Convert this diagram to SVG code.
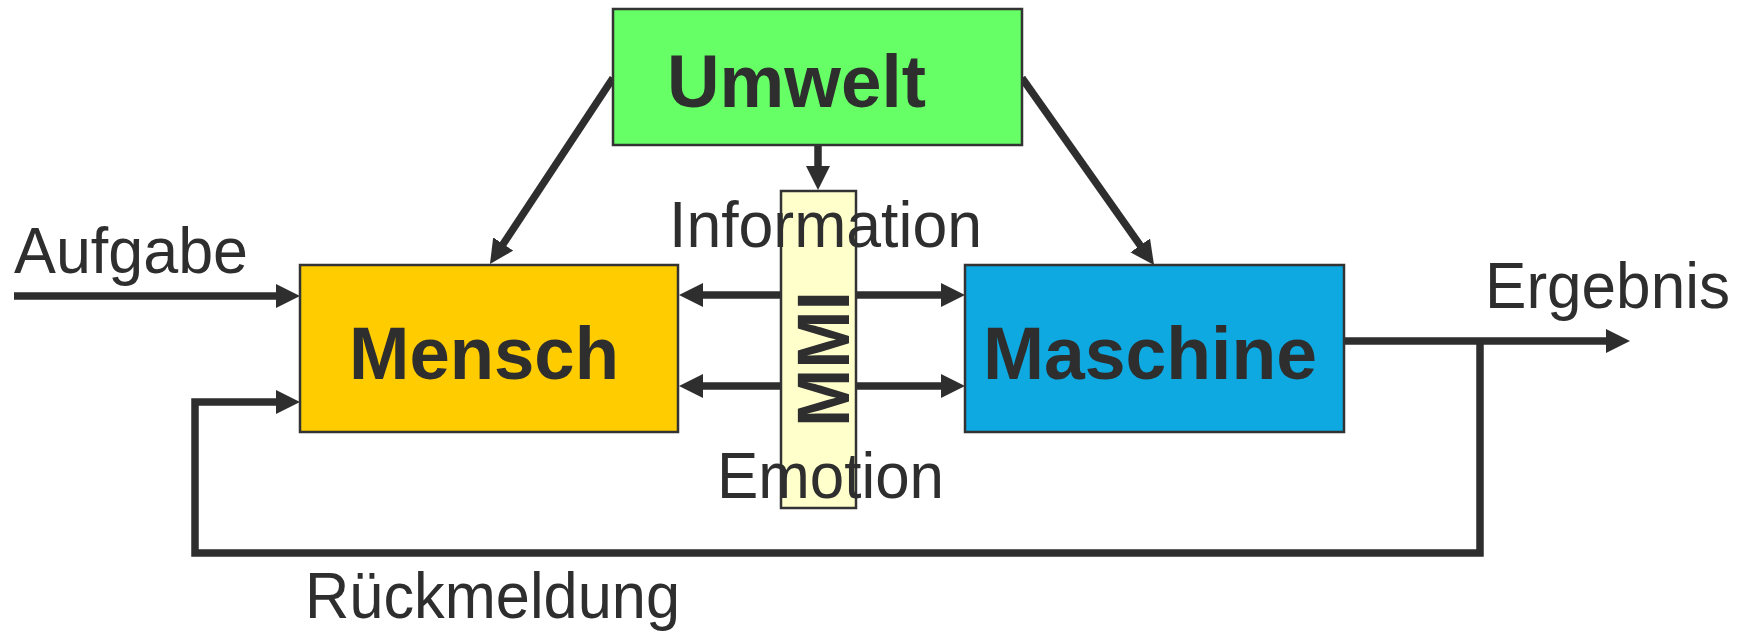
<svg xmlns="http://www.w3.org/2000/svg" width="1750" height="632" viewBox="0 0 1750 632">
<style>
.box{stroke:#333333;stroke-width:2.5}
.conn{fill:none;stroke:#2e2e2e;stroke-width:7.5;stroke-linejoin:miter;stroke-linecap:butt}
.bold{font-family:"Liberation Sans",Arial,sans-serif;font-weight:bold;font-size:75px;fill:#2e2e2e}
.lbl{font-family:"Liberation Sans",Arial,sans-serif;font-size:64px;fill:#2e2e2e}
</style>
<defs>
<marker id="ah" viewBox="0 0 24 24" refX="4" refY="12" markerWidth="24" markerHeight="24" markerUnits="userSpaceOnUse" orient="auto">
<path d="M0,0 L24,12 L0,24 z" fill="#2e2e2e"/>
</marker>
</defs>
<rect width="1750" height="632" fill="#ffffff"/>
<g id="connectors">
<path class="conn" d="M14,296 H280" marker-end="url(#ah)"/>
<path class="conn" d="M1344,341 H1610" marker-end="url(#ah)"/>
<path class="conn" d="M1480,341 V553 H195 V402 H280" marker-end="url(#ah)"/>
<path class="conn" d="M613,78 L501,247.3" marker-end="url(#ah)"/>
<path class="conn" d="M1022,78 L1142.5,248.7" marker-end="url(#ah)"/>
<path class="conn" d="M818,145 V170" marker-end="url(#ah)"/>
<path class="conn" d="M790,295 H699" marker-end="url(#ah)"/>
<path class="conn" d="M846,295 H945" marker-end="url(#ah)"/>
<path class="conn" d="M790,386 H699" marker-end="url(#ah)"/>
<path class="conn" d="M846,386 H945" marker-end="url(#ah)"/>
</g>
<g id="umwelt">
<rect class="box" x="613" y="9" width="409" height="136" fill="#66ff66"/>
<text class="bold" x="667" y="107" textLength="259" lengthAdjust="spacingAndGlyphs">Umwelt</text>
</g>
<g id="mensch">
<rect class="box" x="300" y="265" width="378" height="167" fill="#ffcc00"/>
<text class="bold" x="349" y="379" textLength="270" lengthAdjust="spacingAndGlyphs">Mensch</text>
</g>
<g id="maschine">
<rect class="box" x="965" y="265" width="379" height="167" fill="#0ea9e0"/>
<text class="bold" x="983" y="379" textLength="334" lengthAdjust="spacingAndGlyphs">Maschine</text>
</g>
<g id="mmi">
<rect class="box" x="781" y="191" width="75" height="317" fill="#ffffcc"/>
<text class="bold" transform="translate(849,359) rotate(-90)" x="-68" y="0" textLength="136" lengthAdjust="spacingAndGlyphs">MMI</text>
</g>
<g id="labels">
<text class="lbl" x="669" y="247" textLength="313" lengthAdjust="spacingAndGlyphs">Information</text>
<text class="lbl" x="717" y="498" textLength="227" lengthAdjust="spacingAndGlyphs">Emotion</text>
<text class="lbl" x="14" y="273" textLength="234" lengthAdjust="spacingAndGlyphs">Aufgabe</text>
<text class="lbl" x="1485" y="308" textLength="245" lengthAdjust="spacingAndGlyphs">Ergebnis</text>
<text class="lbl" x="305" y="618" textLength="375" lengthAdjust="spacingAndGlyphs">Rückmeldung</text>
</g>
</svg>
